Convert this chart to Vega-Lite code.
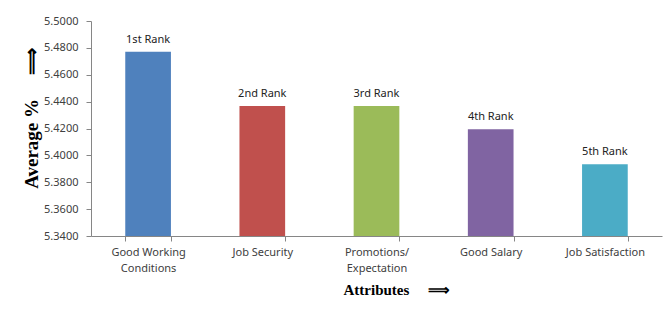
{
  "$schema": "https://vega.github.io/schema/vega-lite/v6.json",
  "autosize": "none",
  "width": 571,
  "height": 215,
  "padding": {"left": 91, "top": 21, "right": 8, "bottom": 78},
  "background": "white",
  "config": {"view": {"stroke": null}, "font": "Noto Sans"},
  "data": {
    "values": [
      {"attribute": "Good Working Conditions", "average": 5.4772, "rank": "1st Rank"},
      {"attribute": "Job Security", "average": 5.4367, "rank": "2nd Rank"},
      {"attribute": "Promotions/Expectation", "average": 5.4367, "rank": "3rd Rank"},
      {"attribute": "Good Salary", "average": 5.4194, "rank": "4th Rank"},
      {"attribute": "Job Satisfaction", "average": 5.3934, "rank": "5th Rank"}
    ]
  },
  "encoding": {
    "x": {
      "field": "attribute",
      "type": "nominal",
      "sort": null,
      "scale": {"paddingInner": 0.6, "paddingOuter": 0.3},
      "axis": {
        "title": "Attributes\u00a0\u00a0\u00a0\u00a0\u00a0⟹",
        "titleFont": "Liberation Serif",
        "titleFontSize": 15,
        "titleFontWeight": "bold",
        "titleColor": "#000000",
        "titleAnchor": "start",
        "titleAlign": "left",
        "titleX": 252,
        "titleY": 53,
        "titleBaseline": "middle",
        "labelAngle": 0,
        "labelFontSize": 11,
        "labelColor": "#404040",
        "labelLineHeight": 16,
        "labelPadding": 5,
        "labelExpr": "datum.label == 'Good Working Conditions' ? ['Good Working', 'Conditions'] : datum.label == 'Promotions/Expectation' ? ['Promotions/', 'Expectation'] : datum.label",
        "tickBand": "extent",
        "tickSize": 5,
        "tickColor": "#868686",
        "domainColor": "#868686",
        "grid": false
      }
    },
    "y": {
      "field": "average",
      "type": "quantitative",
      "scale": {"domain": [5.34, 5.5], "zero": false, "nice": false},
      "axis": {
        "title": "Average %\u00a0\u00a0\u00a0\u00a0\u00a0⟹",
        "titleFont": "Liberation Serif",
        "titleFontSize": 19,
        "titleFontWeight": "bold",
        "titleColor": "#000000",
        "titleX": -60,
        "titleY": 97,
        "titleAlign": "center",
        "titleBaseline": "middle",
        "values": [5.34, 5.36, 5.38, 5.4, 5.42, 5.44, 5.46, 5.48, 5.5],
        "format": ".4f",
        "labelFontSize": 11,
        "labelColor": "#404040",
        "labelPadding": 8,
        "tickSize": 5,
        "tickColor": "#868686",
        "domainColor": "#868686",
        "grid": false
      }
    }
  },
  "layer": [
    {
      "mark": {"type": "bar", "clip": true},
      "encoding": {
        "y2": {"datum": 5.34},
        "color": {
          "field": "attribute",
          "type": "nominal",
          "sort": null,
          "scale": {
            "domain": ["Good Working Conditions", "Job Security", "Promotions/Expectation", "Good Salary", "Job Satisfaction"],
            "range": ["#4F81BD", "#C0504D", "#9BBB59", "#8064A2", "#4BACC6"]
          },
          "legend": null
        }
      }
    },
    {
      "mark": {"type": "text", "baseline": "bottom", "dy": -7, "fontSize": 11, "color": "#222222", "font": "Noto Sans"},
      "encoding": {"text": {"field": "rank"}}
    }
  ]
}
